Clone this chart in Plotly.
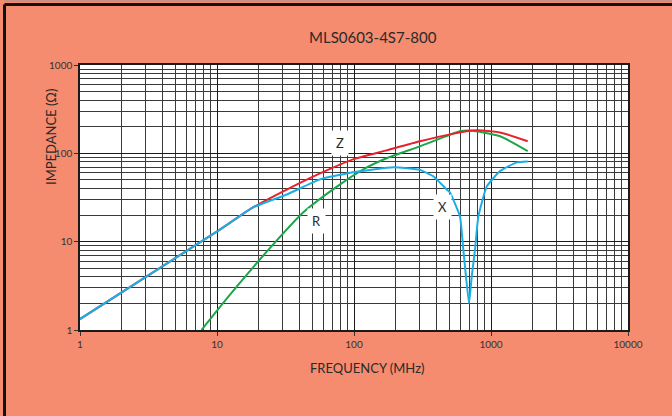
import math
import plotly.graph_objects as go

# Impedance vs frequency for the MLS0603-4S7-800 chip bead
freq_z = [1, 10.5, 18.3, 32.3, 56.5, 98.4, 173, 303, 502, 786, 1164, 1853]
z_ohm = [1.33, 13.7, 24.4, 38.9, 59.3, 85.5, 108, 137, 164, 182, 172, 137]

freq_r = [7.7, 12.4, 24.4, 42.5, 75, 117, 173, 303, 594, 703, 1164, 1853]
r_ohm = [1.0, 2.5, 8.5, 21.4, 42, 66, 88, 120, 178, 181, 156, 106]

freq_x = [1, 10.5, 18.3, 32.3, 56.5, 98.4, 194, 303, 379, 475, 502, 594, 628,
          646, 691, 723, 764, 808, 930, 1164, 1541, 1853]
x_ohm = [1.33, 13.7, 24.4, 34.2, 50.7, 61, 69.5, 65, 55, 39, 36, 19.2, 8.1,
         5.2, 2.0, 4.0, 8.1, 19.2, 42, 63, 79, 81]

x_ticks = [1, 10, 100, 1000, 10000]
x_tick_text = ["1", "10", "100", "1000", "10000"]
y_ticks = [1, 10, 100, 1000]
y_tick_text = ["1", "10", "100", "1000"]

curve_labels = [("Z", 79, 130), ("R", 52.8, 17.3), ("X", 446, 25)]

BG = "#F58B6F"
FONT = "Lato"
INK = "#2a2a2a"

fig = go.Figure()
fig.add_trace(go.Scatter(x=freq_r, y=r_ohm, mode="lines", name="R",
                         line=dict(color="#1BA64A", width=2, shape="spline", smoothing=0.6)))
fig.add_trace(go.Scatter(x=freq_z, y=z_ohm, mode="lines", name="Z",
                         line=dict(color="#E8202A", width=2, shape="spline", smoothing=0.6)))
fig.add_trace(go.Scatter(x=freq_x, y=x_ohm, mode="lines", name="X",
                         line=dict(color="#19AEE6", width=2, shape="spline", smoothing=0.4)))

# curve name tags; annotation positions on log axes are given in decades
for text, fx, fy in curve_labels:
    fig.add_annotation(x=math.log10(fx), y=math.log10(fy), xref="x", yref="y", text=text,
                       showarrow=False, bgcolor="white", borderpad=4,
                       font=dict(family=FONT, size=13, color=INK))

axis_common = dict(
    type="log", showline=True, linecolor="#1a1a1a", linewidth=1.5, mirror=True,
    showgrid=True, gridcolor="#1a1a1a", gridwidth=1,
    ticks="outside", ticklen=4, tickcolor="#333", tickwidth=1,
    tickfont=dict(family=FONT, size=10, color="#333"),
    minor=dict(showgrid=True, gridcolor="#3a3a3a", gridwidth=1, dtick="D1", ticks=""),
    zeroline=False,
)

fig.update_xaxes(range=[0, 4], tickvals=x_ticks, ticktext=x_tick_text, **axis_common)
fig.update_yaxes(range=[0, 3], tickvals=y_ticks, ticktext=y_tick_text, **axis_common)

W, H = 672, 416
L, R, T, B = 80, 44, 65, 86
pw, ph = W - L - R, H - T - B


def px(x):
    return (x - L) / pw


def py(y):
    return 1 - (y - T) / ph


def page_text(text, x, y, size, angle=0):
    fig.add_annotation(x=px(x), y=py(y), xref="paper", yref="paper",
                       xanchor="center", yanchor="middle", textangle=angle,
                       text=text, showarrow=False,
                       font=dict(family=FONT, size=size, color=INK))


page_text("MLS0603-4S7-800", 373, 37, 15)
page_text("FREQUENCY (MHz)", 367, 368, 13)
page_text("IMPEDANCE (Ω)", 51, 137, 13, angle=-90)

# frame edges along the top and left of the page
fig.add_shape(type="line", xref="paper", yref="paper", x0=px(4.5), x1=px(W), y0=py(1.0), y1=py(1.0),
              line=dict(color="#9a9a9a", width=1))
fig.add_shape(type="line", xref="paper", yref="paper", x0=px(4.5), x1=px(W), y0=py(4.5), y1=py(4.5),
              line=dict(color="#111", width=3))
fig.add_shape(type="line", xref="paper", yref="paper", x0=px(4.5), x1=px(4.5), y0=py(4.5), y1=py(H),
              line=dict(color="#111", width=3))

fig.update_layout(
    width=W, height=H, margin=dict(l=L, r=R, t=T, b=B),
    paper_bgcolor=BG, plot_bgcolor="white", showlegend=False,
    font=dict(family=FONT, color=INK),
)

fig.write_html("out.html")
